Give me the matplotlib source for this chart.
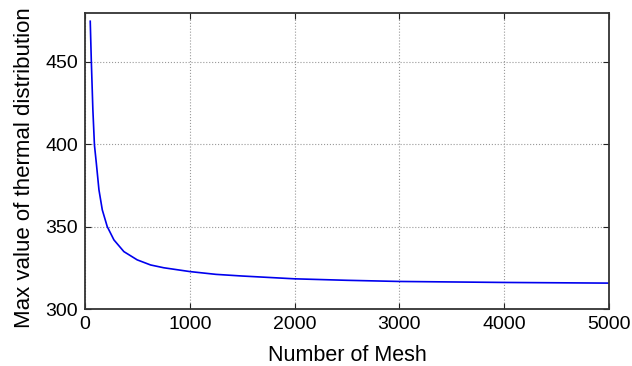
import matplotlib
matplotlib.use("Agg")
import matplotlib.pyplot as plt

mesh = [50, 60, 75, 90, 108, 133, 165, 212, 276, 371, 498, 626, 752, 1000, 1250,
        1500, 2000, 2500, 3000, 3500, 4000, 4500, 5000]
max_val = [474.5, 451, 421, 399.5, 388.5, 372.3, 360.1, 350, 341.9, 334.8, 329.8, 326.7,
           325.0, 322.7, 321.0, 320.0, 318.3, 317.4, 316.7, 316.4, 316.1, 315.9, 315.7]

plt.rcParams['font.family'] = ['Liberation Sans', 'DejaVu Sans']

fig = plt.figure(figsize=(6.32, 3.66), dpi=100)
ax = fig.add_axes([85/632, 1-309/366, (609-85)/632, (309-13)/366])
ax.plot(mesh, max_val, color='#0000ee', linewidth=1.2)
ax.set_xlim(0, 5000)
ax.set_ylim(300, 479.5)
ax.set_xticks([0, 1000, 2000, 3000, 4000, 5000])
ax.set_yticks([300, 350, 400, 450])
ax.grid(True, linestyle=':', color='#999999', linewidth=0.8)
ax.tick_params(direction='in', top=True, right=True, labelsize=14, length=4, color='#222222')
ax.tick_params(axis='y', pad=5)
ax.tick_params(axis='x', pad=5)
for s in ax.spines.values():
    s.set_linewidth(1.3)
    s.set_color('#333333')
ax.set_xlabel('Number of Mesh', fontsize=15.5)
ax.set_ylabel('Max value of thermal distribution', fontsize=16)
ax.xaxis.set_label_coords(0.5, -0.12)
ax.yaxis.set_label_coords(-0.095, 0.476)
fig.savefig('out.png', dpi=100)
